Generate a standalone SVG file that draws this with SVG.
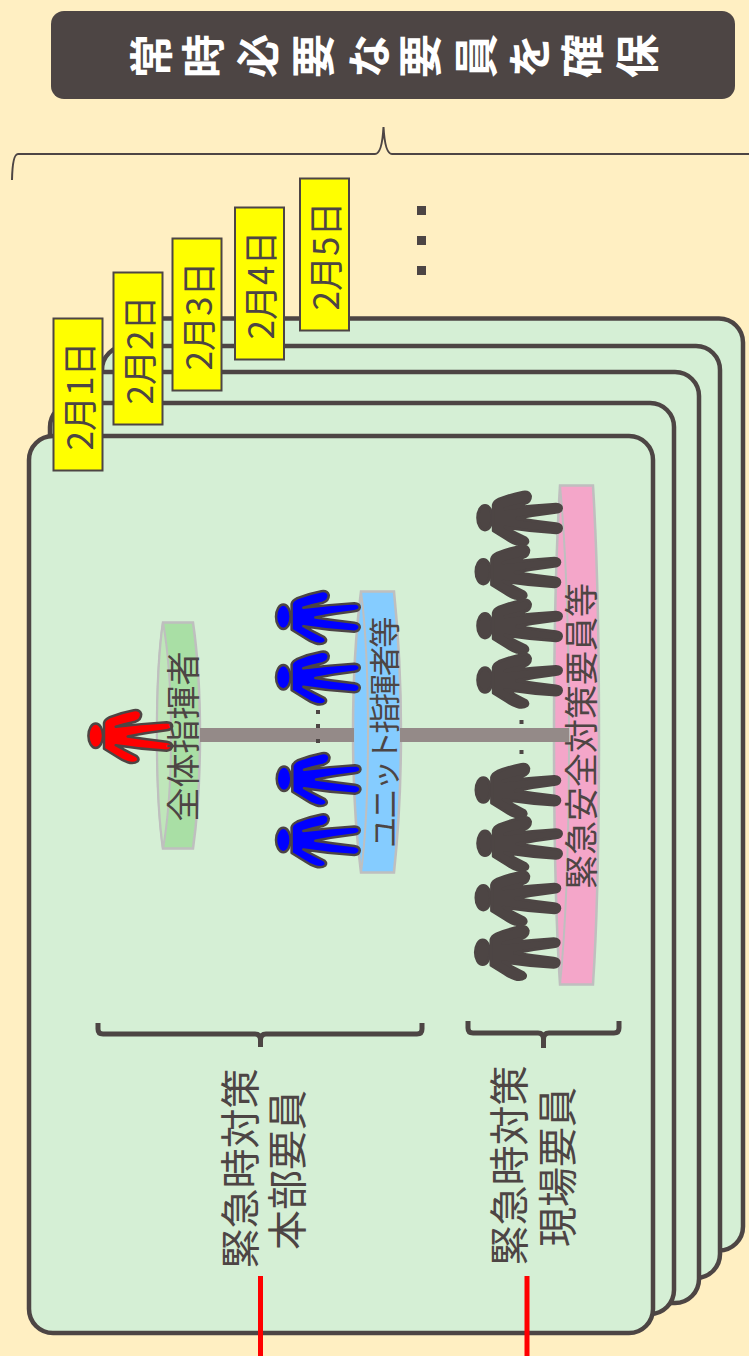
<svg xmlns="http://www.w3.org/2000/svg" width="749" height="1356" viewBox="0 0 749 1356">
<style>
text{font-family:"Noto Sans CJK JP","Liberation Sans",sans-serif;fill:#4d4544;text-anchor:middle;dominant-baseline:central}
.t{fill:#fff;font-size:44px;font-weight:700}
.card{fill:#d5efd5;stroke:#4d4544;stroke-width:4.5}
.day{fill:#ffff00;stroke:#4d4544;stroke-width:2}
.dd{font-size:35px}
.cyl{stroke:#bfbfbf;stroke-width:2.5}
.in{stroke:#bfbfbf;stroke-width:2}
.br{fill:none;stroke:#4d4544;stroke-width:5}
.sq{fill:#4d4544}
.lab{font-size:40px}
.p{stroke:#4d4544;stroke-width:2.5;stroke-linejoin:round}
.red{fill:#ff0000}.blue{fill:#0000ff}.gray{fill:#4d4544;stroke-width:3}
</style>
<defs>
<g id="person">
<ellipse cx="0" cy="0" rx="7.300" ry="12.200"/>
<path d="M8.300-12.700Q9-16 14-18.500Q25-23 38-25.500Q44-26.500 45.500-21.500Q45.500-16 39.500-14Q28-11.500 20-9Q46-12 71-13.500Q76.500-13 76.500-9.500Q76-6 71-5.500Q50-3 32 .7Q50 3.500 71 6Q76.500 7 76.500 10.500Q76 14.500 71 15Q45 13.500 20 9.500Q30 15 41 20.500Q44 23 42 25.500Q38 28.500 32 26.500Q27 25 22 21.500L8.300 13Z"/>
</g>
</defs>
<rect id="background" width="749" height="1356" fill="#ffefc2"/>
<g id="title">
<rect x="51" y="11" width="684" height="88" rx="13" fill="#4d4544"/>
<text class="t" transform="translate(149 56) rotate(-90)">常</text>
<text class="t" transform="translate(200.500 56) rotate(-90)">時</text>
<text class="t" transform="translate(256 56) rotate(-90)">必</text>
<text class="t" transform="translate(311 56) rotate(-90)">要</text>
<text class="t" transform="translate(367 56) rotate(-90)">な</text>
<text class="t" transform="translate(418 56) rotate(-90)">要</text>
<text class="t" transform="translate(474 56) rotate(-90)">員</text>
<text class="t" transform="translate(527 56) rotate(-90)">を</text>
<text class="t" transform="translate(580 56) rotate(-90)">確</text>
<text class="t" transform="translate(635 56) rotate(-90)">保</text>
</g>
<g id="top-brace">
<path d="M12 180Q12.500 154 18 154H375Q382 154 383.500 127Q385 154 392 154H749" fill="none" stroke="#4d4544" stroke-width="2"/>
</g>
<g id="cards">
<rect id="card5" class="card" x="120" y="318.500" width="623" height="932" rx="24"/>
<rect id="card4" class="card" x="102" y="346" width="618" height="932" rx="24"/>
<rect id="card3" class="card" x="76" y="372" width="623" height="931" rx="24"/>
<rect id="card2" class="card" x="50" y="403" width="624" height="911" rx="24"/>
<rect id="card1" class="card" x="29" y="436" width="624" height="897" rx="24"/>
</g>
<g id="dates">
<g id="d1"><rect class="day" x="53.500" y="318.500" width="49" height="152"/><text class="dd" transform="translate(77 396) rotate(-90)">2月1日</text></g>
<g id="d2"><rect class="day" x="113.500" y="272.500" width="49" height="152"/><text class="dd" transform="translate(137 350) rotate(-90)">2月2日</text></g>
<g id="d3"><rect class="day" x="172.500" y="238.500" width="49" height="152"/><text class="dd" transform="translate(196 316) rotate(-90)">2月3日</text></g>
<g id="d4"><rect class="day" x="235" y="207.500" width="49" height="152"/><text class="dd" transform="translate(258.500 285) rotate(-90)">2月4日</text></g>
<g id="d5"><rect class="day" x="300" y="178.500" width="49" height="152"/><text class="dd" transform="translate(323.500 256) rotate(-90)">2月5日</text></g>
</g>
<g id="more-dots">
<rect class="sq" x="417" y="206" width="9" height="9"/>
<rect class="sq" x="417" y="236" width="9" height="9"/>
<rect class="sq" x="417" y="266" width="9" height="9"/>
</g>
<g id="tier-commander">
<path class="cyl" fill="#a9dfa5" d="M163 622.500H193C197 650 200 695 200 735C200 775 197 820 193 848.500H163C159 820 157 775 157 735C157 695 159 650 163 622.500Z"/>
<path class="in" fill="#bfe6ba" d="M163 622.500C159 650 157 695 157 735C157 775 159 820 163 848.500C168 820 171 775 171 735C171 695 168 650 163 622.500Z"/>
</g>
<g id="tier-unit">
<path class="cyl" fill="#85ccff" d="M361 591.500H394C398 630 401 685 401 733C401 780 398 835 394 872.500H361C356 835 353 780 353 733C353 685 356 630 361 591.500Z"/>
<path class="in" fill="none" d="M361 591.500C366 630 368 685 368 733C368 780 366 835 361 872.500"/>
</g>
<g id="tier-field">
<path class="cyl" fill="#f4a6c9" d="M560 485.500H593C597 550 599 650 599 736C599 825 597 925 593 984.500H560C556 925 554 825 554 736C554 650 556 550 560 485.500Z"/>
<path class="in" fill="none" d="M560 485.500C566 550 569 650 569 736C569 825 566 925 560 984.500"/>
</g>
<g id="connectors">
<rect x="200" y="728" width="154" height="14" fill="#948a88"/>
<rect x="400" y="728" width="169" height="14" fill="#948a88"/>
<rect x="316" y="710" width="4" height="4" class="sq"/>
<rect x="316" y="724" width="4" height="4" class="sq"/>
<rect x="316" y="739" width="4" height="4" class="sq"/>
<rect x="519.500" y="720" width="4" height="4" class="sq"/>
<rect x="519.500" y="750" width="4" height="4" class="sq"/>
<rect x="258" y="1276" width="5" height="80" fill="#ff0000"/>
<rect x="524.500" y="1276" width="5" height="80" fill="#ff0000"/>
</g>
<g id="people">
<use href="#person" class="p red" x="95.700" y="735.700"/>
<use href="#person" class="p blue" x="283.300" y="616.700"/>
<use href="#person" class="p blue" x="283.300" y="677.300"/>
<use href="#person" class="p blue" x="284" y="778.700"/>
<use href="#person" class="p blue" x="283.300" y="840"/>
<use href="#person" class="p gray" x="485" y="517.700"/>
<use href="#person" class="p gray" x="483.300" y="571.700"/>
<use href="#person" class="p gray" x="485" y="625.700"/>
<use href="#person" class="p gray" x="485" y="680"/>
<use href="#person" class="p gray" x="483.300" y="790"/>
<use href="#person" class="p gray" x="485" y="843.300"/>
<use href="#person" class="p gray" x="483.300" y="897.700"/>
<use href="#person" class="p gray" x="482.700" y="952.300"/>
</g>
<g id="tier-labels">
<text transform="translate(181.500 736.500) rotate(-90)" style="font-size:34px">全体指揮者</text>
<text transform="translate(382.500 733.500) rotate(-90)" style="font-size:31px;letter-spacing:-2.400px">ユニット指揮者等</text>
<text transform="translate(579.500 736) rotate(-90)" style="font-size:34px">緊急安全対策要員等</text>
</g>
<g id="brace-hq">
<path class="br" d="M98 1023V1029Q98 1034 103 1034H255Q260.500 1034 260.500 1040V1047M260.500 1040Q260.500 1034 266 1034H417Q422 1034 422 1029V1023"/>
<text class="lab" transform="translate(238 1168.500) rotate(-90)">緊急時対策</text>
<text class="lab" transform="translate(285 1170) rotate(-90)">本部要員</text>
</g>
<g id="brace-field">
<path class="br" d="M468 1021V1028Q468 1033 473 1033H538Q543.500 1033 543.500 1039V1048M543.500 1039Q543.500 1033 549 1033H614Q619 1033 619 1028V1021"/>
<text class="lab" transform="translate(507 1165.500) rotate(-90)">緊急時対策</text>
<text class="lab" transform="translate(555 1167) rotate(-90)">現場要員</text>
</g>
</svg>
